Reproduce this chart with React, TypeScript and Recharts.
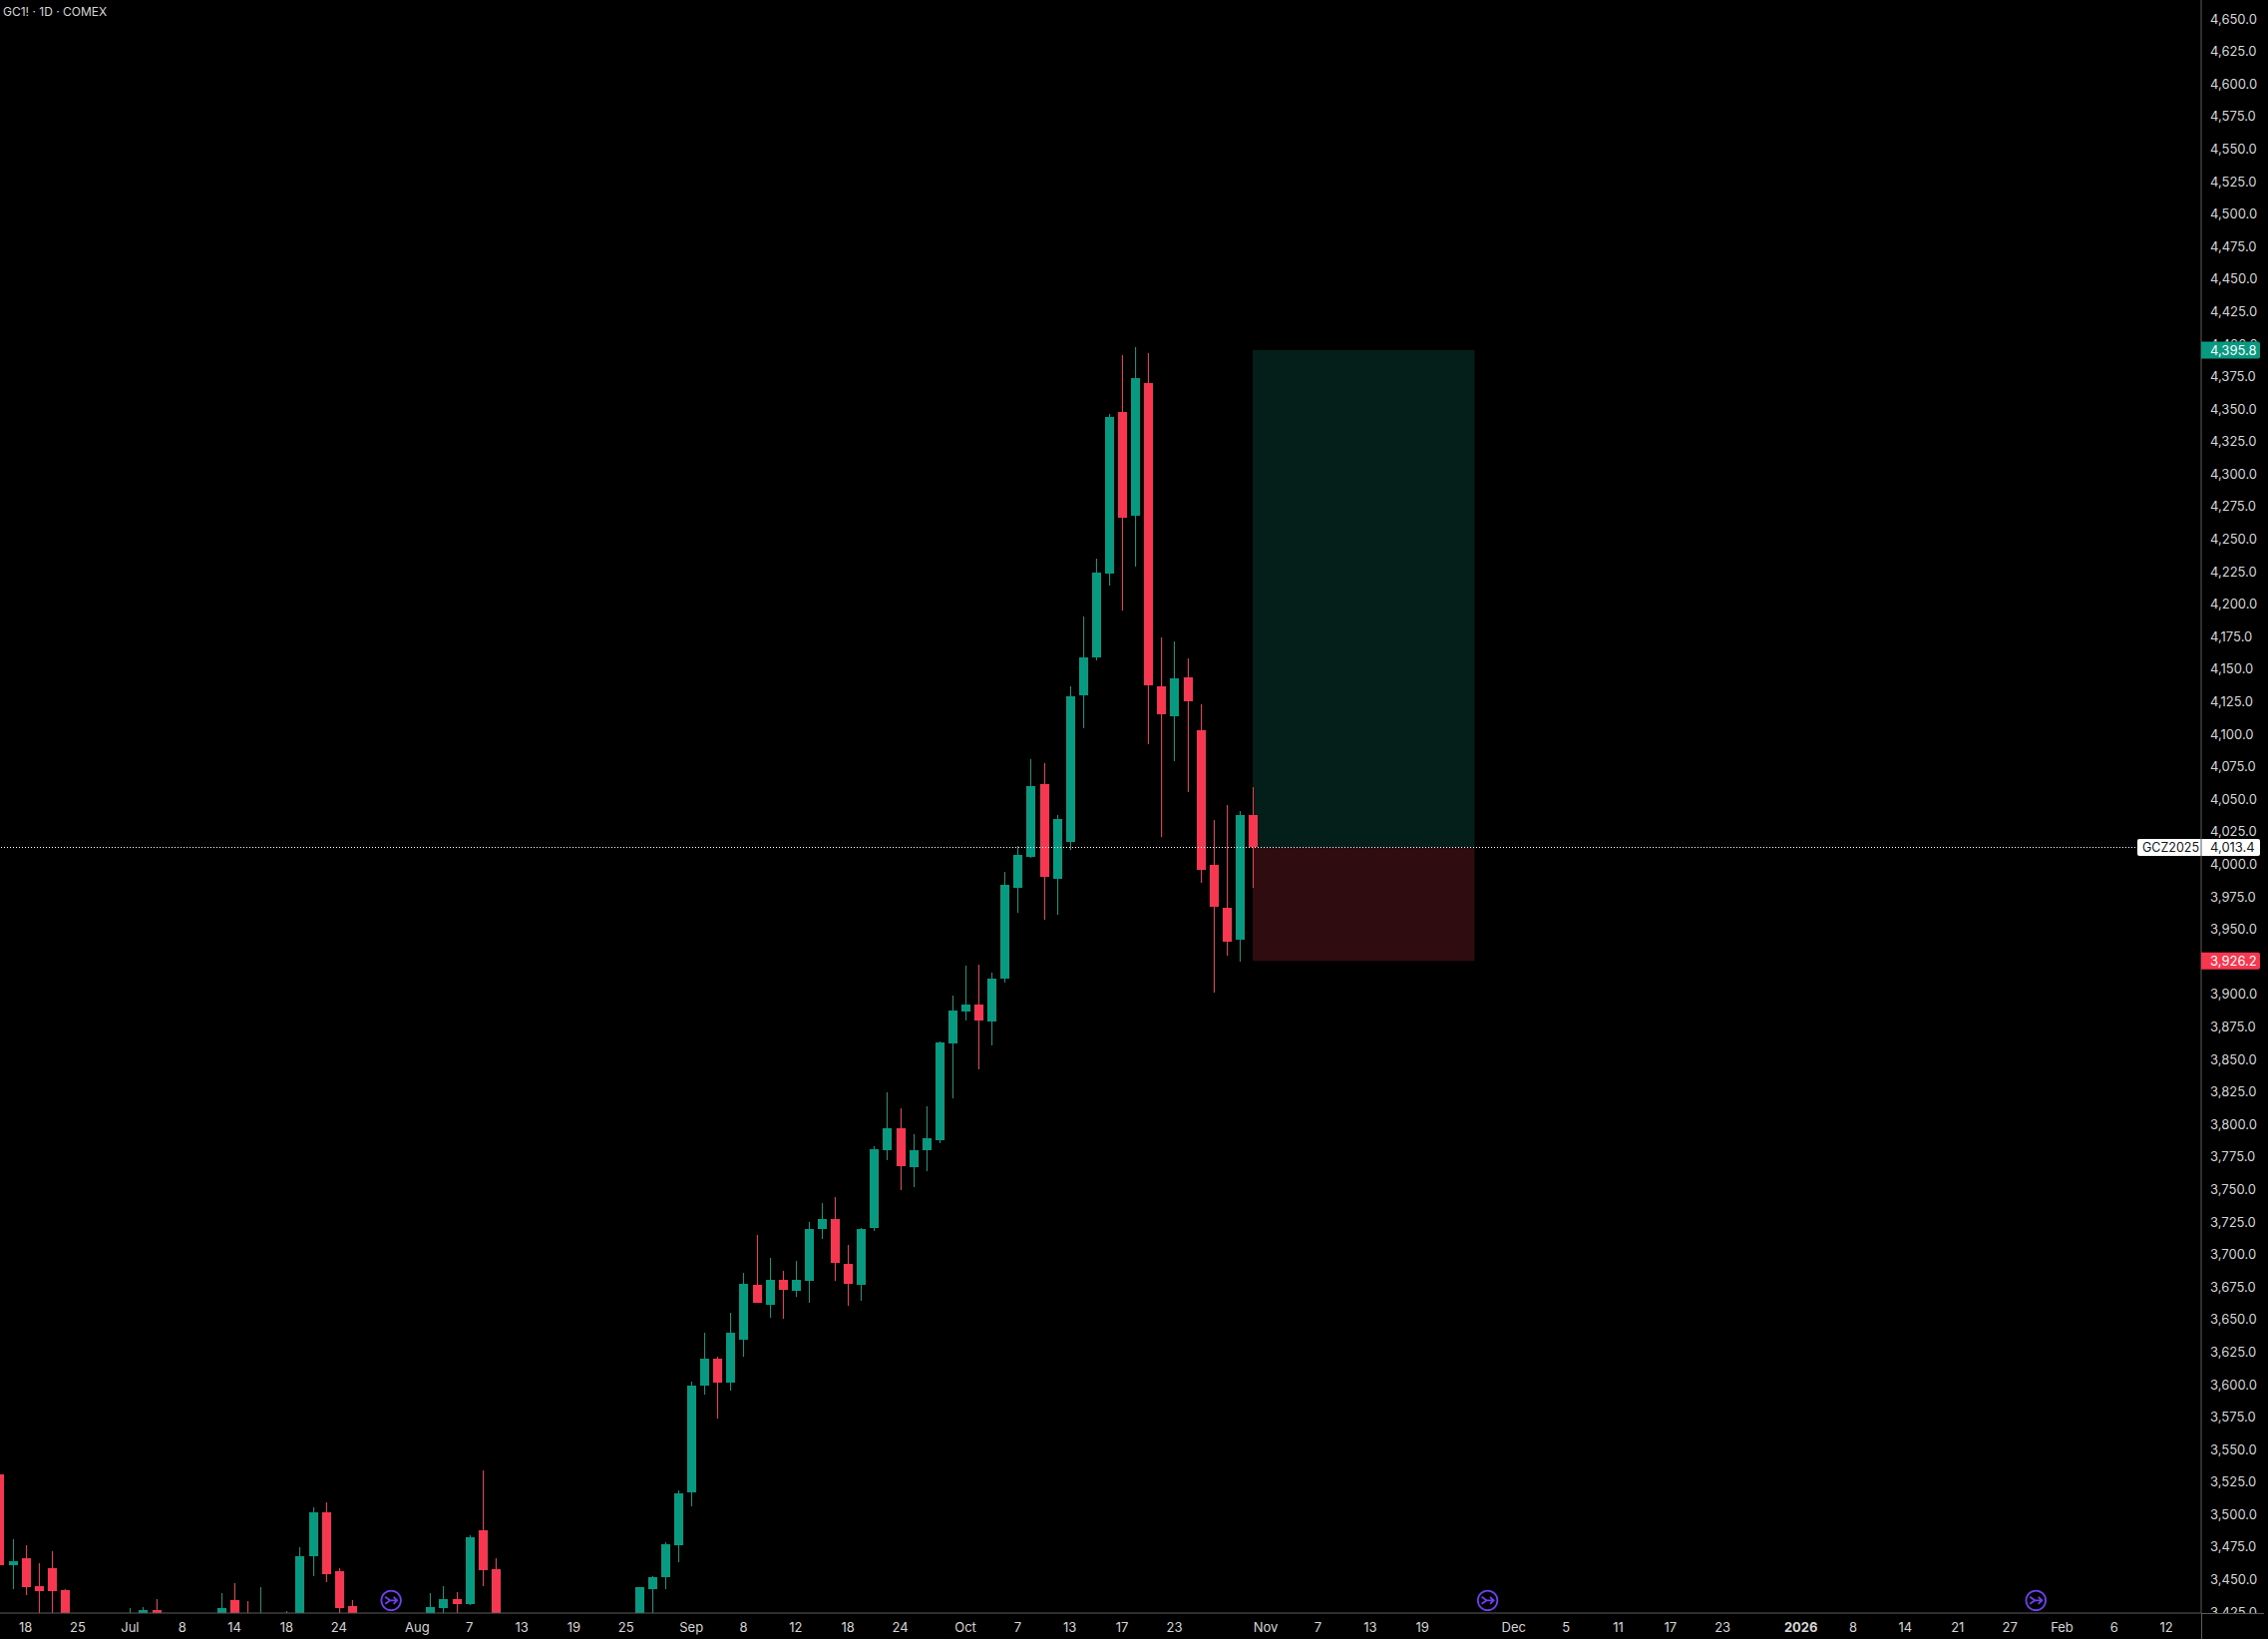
import React from "react";
import { ComposedChart, Bar, XAxis, YAxis, ReferenceArea, ReferenceLine, ReferenceDot } from "recharts";

const TITLE = "GC1! · 1D · COMEX";
const SYMBOL = "GCZ2025";

const slots = [0,1,2,3,4,5,10,11,12,17,18,19,20,22,23,24,25,26,27,33,34,35,36,37,38,49,50,51,52,53,54,55,56,57,58,59,60,61,62,63,64,65,66,67,68,69,70,71,72,73,74,75,76,77,78,79,80,81,82,83,84,85,86,87,88,89,90,91,92,93,94,95,96];
const opens = [3531.3,3461.5,3466.8,3445.4,3459.2,3442.3,3412,3420,3427,3418,3434.6,3420,3412,3410,3415,3468.4,3502.1,3456.9,3430,3418,3428.5,3435.4,3431.6,3488.3,3458.4,3420,3443.1,3452.3,3476.8,3517.5,3599.5,3620.2,3601.8,3634.8,3677,3661.6,3680.8,3672.4,3680,3719.9,3727.6,3693.1,3677,3720.7,3780.5,3797.4,3767.5,3780.5,3788.2,3862.5,3887.1,3892.5,3879.4,3912.4,3982.2,4006,4061.9,3989.1,4017.5,4130.2,4159.3,4223.7,4348,4268.2,4370.2,4137.1,4114.1,4144,4103.4,3999.8,3966.8,3942.3,4038.2];
const highs = [3533,3480.7,3476.8,3463,3472.2,3443.1,3428.5,3429.3,3435.4,3440,3447.7,3433.9,3443.9,3426.2,3475.3,3506,3509.8,3459.2,3434.6,3440,3445.4,3440.8,3484.5,3534.3,3466.8,3443.9,3453,3479.1,3519,3602.6,3640.2,3621.8,3655.5,3686.2,3715.3,3697.7,3687.7,3695.4,3725.3,3739.9,3744.5,3707.6,3720.5,3783.6,3825,3812.7,3792.8,3814.2,3864.1,3899.4,3922.4,3923.1,3917,3994.5,4014.4,4081.1,4078,4038.2,4137.1,4190.8,4235.3,4346.4,4391.7,4397.8,4393.2,4174.7,4171.6,4158.6,4123.3,4034.3,4045.8,4041.2,4059.6];
const lows = [3458,3442.5,3438.5,3420,3415,3405,3405,3415,3412,3412,3410,3405,3405,3405,3408,3453,3448.4,3415,3410,3412,3418,3418,3430.8,3445.4,3410,3415,3420,3443.1,3463.8,3506.7,3592.6,3574.2,3595.7,3621.8,3663.2,3651.7,3650.9,3667.8,3663.2,3712.2,3680,3660.9,3664.7,3718.4,3772.8,3749.8,3752.1,3764.4,3785.9,3820.4,3880.2,3842.6,3861,3909.3,3963,4005.2,3957.6,3961.5,4011.3,4104.9,4157,4214.5,4195.4,4229.1,4092.6,4021.3,4079.6,4055.8,3986,3901.7,3930,3925.4,3982.2];
const closes = [3461.5,3464.5,3443.9,3441.5,3441.5,3410,3420,3427,3418,3428.5,3418,3410,3421,3420,3468.4,3502.1,3454.6,3428.5,3415,3429.3,3435.4,3431.6,3482.9,3457.6,3415,3443.9,3452.3,3477.6,3516.7,3599.5,3620.2,3601.8,3640.2,3677.7,3663.2,3680.8,3673.1,3680.8,3719.9,3727.6,3693.8,3677.7,3719.9,3781.3,3797.4,3768.2,3780.5,3789.7,3863.3,3887.9,3892.5,3880.2,3912.4,3984.5,4007.5,4060.4,3990.6,4035.1,4129.4,4159.3,4224.5,4344.1,4266.7,4374.1,4137.9,4115.6,4143.2,4125.6,3996,3967.6,3940.8,4038.2,4013.4];

const priceTicks = [4650,4625,4600,4575,4550,4525,4500,4475,4450,4425,4400,4375,4350,4325,4300,4275,4250,4225,4200,4175,4150,4125,4100,4075,4050,4025,4000,3975,3950,3900,3875,3850,3825,3800,3775,3750,3725,3700,3675,3650,3625,3600,3575,3550,3525,3500,3475,3450,3425];
const timeTicks = [2,6,10,14,18,22,26,32,36,40,44,48,53,57,61,65,69,74,78,82,86,90,97,101,105,109,116,120,124,128,132,138,142,146,150,154,158,162,166];
const timeLabels = ["18","25","Jul","8","14","18","24","Aug","7","13","19","25","Sep","8","12","18","24","Oct","7","13","17","23","Nov","7","13","19","Dec","5","11","17","23","2026","8","14","21","27","Feb","6","12"];
const boldLabels = ["2026"];

const ENTRY = 4013.4;
const TARGET = 4395.8;
const STOP = 3926.2;
const zoneStart = 96;
const zoneEnd = 113;
const eventSlots = [30, 114, 156];
const eventPrice = 3434.4;

const chartData = slots.map((slot, i) => ({ slot, open: opens[i], close: closes[i], high: highs[i], low: lows[i], range: [lows[i], highs[i]] }));

const W = 2274, H = 1643, PLOT_R = 2207, PLOT_B = 1617;
const X_DOMAIN: [number, number] = [0.038, 168.66];
const Y_DOMAIN: [number, number] = [3424.7, 4665.0];
const GREEN = "#089981", RED = "#F7374F", PURPLE = "#7040F0", AXIS = "#5c5c5c", TEXT = "#d6d6d6";
const FONT = "Inter, 'Noto Sans', sans-serif";

function Candle(props: any) {
  const { x, y, width, height, payload } = props;
  if (height == null || payload == null) return null;
  const { open, close, high, low } = payload;
  const perUnit = height / (high - low);
  const wickTop = Math.floor(y);
  const wickBottom = Math.floor(y + height);
  const top = Math.floor(y + (high - Math.max(open, close)) * perUnit);
  const bottom = Math.floor(y + (high - Math.min(open, close)) * perUnit);
  const color = close >= open ? GREEN : RED;
  const cx = Math.round(x + width / 2);
  return (
    <g>
      <rect x={cx} y={wickTop} width={1} height={wickBottom - wickTop} fill={color} />
      <rect x={cx - 4} y={top} width={9} height={Math.max(bottom - top, 1)} fill={color} />
    </g>
  );
}

function PriceTick(props: any) {
  const { y, payload } = props;
  return (
    <text x={PLOT_R + 9} y={y - 0.5} dy="0.35em" fill={TEXT} fontSize={13} fontFamily={FONT} clipPath="url(#axis-clip)">
      {payload.value.toFixed(1).replace(/(\d)(\d{3})\./, "$1,$2.")}
    </text>
  );
}

function TimeTick(props: any) {
  const { x, payload } = props;
  const label = timeLabels[timeTicks.indexOf(payload.value)];
  return (
    <text x={x} y={PLOT_B + 14} dy="0.35em" textAnchor="middle" fill={TEXT} fontSize={13} fontFamily={FONT} fontWeight={boldLabels.includes(label) ? 700 : 400}>
      {label}
    </text>
  );
}

function Badge({ cy, cx, fill, color, text }: any) {
  return (
    <g>
      <path d={`M${cx} ${cy - 8.5}H${cx + 57}a2 2 0 0 1 2 2V${cy + 6.5}a2 2 0 0 1 -2 2H${cx}Z`} fill={fill} />
      <text x={cx + 9} y={cy} dy="0.35em" fill={color} fontSize={13} fontFamily={FONT}>{text}</text>
    </g>
  );
}

function EntryBadge({ cx, cy }: any) {
  return (
    <g>
      <path d={`M${cx} ${cy - 8.5}H${cx - 62}a2 2 0 0 0 -2 2V${cy + 6.5}a2 2 0 0 0 2 2H${cx}Z`} fill="#fff" />
      <text x={cx - 59} y={cy} dy="0.35em" fill="#131722" fontSize={12.5} fontFamily={FONT}>{SYMBOL}</text>
      <Badge cx={cx} cy={cy} fill="#fff" color="#131722" text="4,013.4" />
      <line x1={cx} x2={cx} y1={cy - 8.5} y2={cy + 8.5} stroke={AXIS} />
    </g>
  );
}

function EventIcon({ cx, cy }: any) {
  return (
    <g fill="none" stroke={PURPLE} strokeWidth={1.8}>
      <circle cx={cx} cy={cy} r={9.8} />
      <path d={`M${cx - 6} ${cy - 3.5}L${cx - 1} ${cy}L${cx - 6} ${cy + 3.5}M${cx - 1} ${cy}H${cx + 6}M${cx + 2.5} ${cy - 3.5}L${cx + 6} ${cy}L${cx + 2.5} ${cy + 3.5}`} />
    </g>
  );
}

export default function App() {
  return (
    <div style={{ position: "fixed", inset: 0, background: "#000", overflow: "hidden" }}>
      <ComposedChart width={W} height={H} data={chartData} margin={{ top: 0, right: 0, bottom: 0, left: 0 }} barSize={9}>
        <defs>
          <clipPath id="axis-clip">
            <rect x={PLOT_R} y={0} width={W - PLOT_R} height={342.5} />
            <rect x={PLOT_R} y={360} width={W - PLOT_R} height={PLOT_B - 360} />
          </clipPath>
        </defs>
        <XAxis dataKey="slot" type="number" domain={X_DOMAIN} allowDataOverflow ticks={timeTicks} interval={0} height={H - PLOT_B} tick={<TimeTick />} tickLine={false} stroke={AXIS} />
        <YAxis orientation="right" type="number" domain={Y_DOMAIN} allowDataOverflow ticks={priceTicks} interval={0} width={W - PLOT_R} tick={<PriceTick />} tickLine={false} stroke={AXIS} />
        <ReferenceArea x1={zoneStart} x2={zoneEnd} y1={ENTRY} y2={TARGET} fill="#041F1A" fillOpacity={1} stroke="none" />
        <ReferenceArea x1={zoneStart} x2={zoneEnd} y1={STOP} y2={ENTRY} fill="#2F0C10" fillOpacity={1} stroke="none" />
        <Bar dataKey="range" shape={<Candle />} isAnimationActive={false} />
        <ReferenceLine y={ENTRY} stroke="#fff" strokeDasharray="1 2" />
        {eventSlots.map((slot) => (
          <ReferenceDot key={slot} x={slot} y={eventPrice} shape={<EventIcon />} />
        ))}
        <ReferenceDot x={X_DOMAIN[1]} y={TARGET} ifOverflow="visible" shape={(p: any) => <Badge cx={p.cx} cy={p.cy} fill={GREEN} color="#fff" text="4,395.8" />} />
        <ReferenceDot x={X_DOMAIN[1]} y={STOP} ifOverflow="visible" shape={(p: any) => <Badge cx={p.cx} cy={p.cy} fill={RED} color="#fff" text="3,926.2" />} />
        <ReferenceDot x={X_DOMAIN[1]} y={ENTRY} ifOverflow="visible" shape={<EntryBadge />} />
        <line x1={PLOT_R} x2={2270} y1={PLOT_B + 0.5} y2={PLOT_B + 0.5} stroke={AXIS} />
        <line x1={PLOT_R + 0.5} x2={PLOT_R + 0.5} y1={PLOT_B} y2={H} stroke={AXIS} />
        <text x={3} y={16} fill={TEXT} fontSize={12} fontFamily={FONT}>{TITLE}</text>
      </ComposedChart>
    </div>
  );
}
